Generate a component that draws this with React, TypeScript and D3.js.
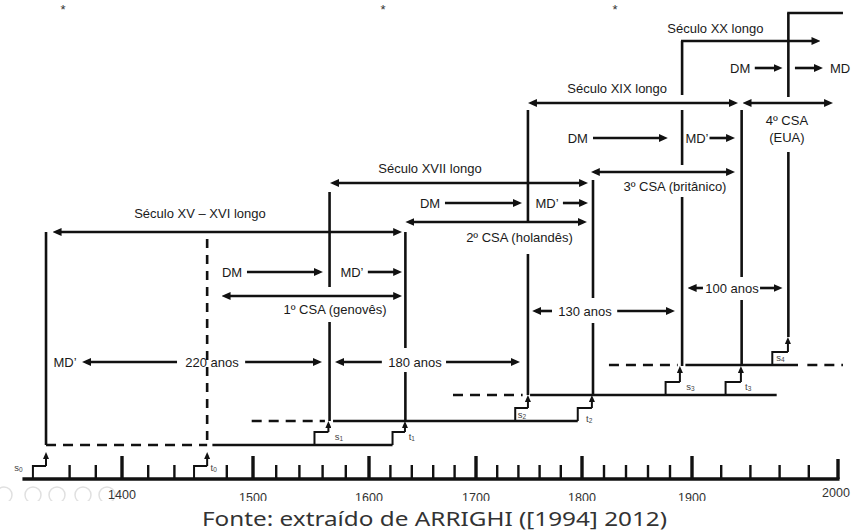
import * as React from "react";
import * as d3 from "d3";

const WIDTH = 852;
const HEIGHT = 532;

// eixo do tempo: o desenho original não é proporcional, então a escala é por trechos
const AXIS_YEARS = [1400, 1500, 1600, 1700, 1800, 1900, 2000];
const AXIS_PX = [122, 253, 369, 476, 582, 692, 838];
const AXIS_START = 1324;
const MINOR_YEARS = d3.range(1360, 2000, 20).filter((y) => y % 100 !== 0 && y !== 1460);

// y de cada patamar da escada (0 = eixo)
const LEVEL_Y = [479, 445, 421, 395, 365];

// sinais (s) e crises terminais (t): subida do degrau, ano da seta, patamar de partida
const STEPS = [
  { s: "s", n: "0", rise: 1332, at: 1342, base: 0, tip: 452, lx: 1321, ly: 467 },
  { s: "t", n: "0", rise: 1455, at: 1465, base: 0, tip: 452, lx: 1470, ly: 467 },
  { s: "s", n: "1", rise: 1553, at: 1565, base: 1, tip: 421, lx: 1574, ly: 436 },
  { s: "t", n: "1", rise: 1622, at: 1633.6, base: 1, tip: 421, lx: 1640, ly: 436 },
  { s: "s", n: "2", rise: 1737, at: 1749, base: 2, tip: 395, lx: 1743.4, ly: 414 },
  { s: "t", n: "2", rise: 1796, at: 1809, base: 2, tip: 395, lx: 1806.5, ly: 418 },
  { s: "s", n: "3", rise: 1876, at: 1889, base: 3, tip: 366, lx: 1898.5, ly: 386 },
  { s: "t", n: "3", rise: 1923, at: 1933.5, base: 3, tip: 366, lx: 1938.5, ly: 386 },
  { s: "s", n: "4", rise: 1955, at: 1965.7, base: 4, tip: 337, lx: 1960.5, ly: 357 },
];

// linhas dos patamares
const LEVEL_LINES = [
  { level: 1, from: 1342, to: 1465, dashed: true },
  { level: 1, from: 1469, to: 1622, dashed: false },
  { level: 2, from: 1499, to: 1562, dashed: true },
  { level: 2, from: 1569, to: 1796, dashed: false },
  { level: 3, from: 1678.5, to: 1744, dashed: true },
  { level: 3, from: 1751, to: 1958, dashed: false },
  { level: 4, from: 1824.5, to: 1887, dashed: true },
  { level: 4, from: 1894, to: 1972.6, dashed: false },
  { level: 4, from: 1979, to: 2003.4, dashed: true },
];

// verticais de cada ciclo (com as interrupções para os rótulos)
const VERTICALS = [
  { year: 1342, segs: [[232, 445]], dashed: false },
  { year: 1465, segs: [[239, 445]], dashed: true },
  { year: 1566, segs: [[192, 287], [322, 421]], dashed: false },
  { year: 1634, segs: [[232, 348], [372, 421]], dashed: false },
  { year: 1749, segs: [[110, 222], [254, 395]], dashed: false },
  { year: 1810, segs: [[180, 298], [323, 395]], dashed: false },
  { year: 1891, segs: [[41, 95], [110, 165], [197, 366]], dashed: false },
  { year: 1934, segs: [[110, 277], [300, 366]], dashed: false },
  { year: 1966, segs: [[13, 97], [152, 337]], dashed: false },
];

const PLAIN_LINES = [{ y: 13, from: 1965.2, to: 2003.4 }];

const ARROWS = [
  { y: 41, from: 1890, to: 1988, start: false, end: true },
  { y: 68, from: 1943, to: 1962, start: false, end: true },
  { y: 68, from: 1970.5, to: 1989.7, start: false, end: true },
  { y: 103, from: 1749, to: 1931.5, start: true, end: true },
  { y: 103, from: 1934.6, to: 1996.6, start: true, end: true },
  { y: 138, from: 1810, to: 1878, start: false, end: true },
  { y: 138, from: 1912, to: 1929.5, start: false, end: true },
  { y: 172, from: 1808, to: 1929.5, start: true, end: true },
  { y: 183, from: 1566.4, to: 1805.5, start: true, end: true },
  { y: 203, from: 1671, to: 1743.4, start: false, end: true },
  { y: 203, from: 1782, to: 1805.5, start: false, end: true },
  { y: 222, from: 1634, to: 1804.5, start: true, end: true },
  { y: 232, from: 1347, to: 1631, start: true, end: true },
  { y: 272, from: 1495.4, to: 1560.3, start: false, end: true },
  { y: 272, from: 1599, to: 1631, start: false, end: true },
  { y: 296, from: 1476, to: 1631, start: true, end: true },
  { y: 362, from: 1442, to: 1369.5, start: false, end: true },
  { y: 362, from: 1494, to: 1559.5, start: false, end: true },
  { y: 362, from: 1612, to: 1570.7, start: false, end: true },
  { y: 362, from: 1672, to: 1741.5, start: false, end: true },
  { y: 311, from: 1771.7, to: 1753, start: false, end: true },
  { y: 311, from: 1832, to: 1884.5, start: false, end: true },
  { y: 288, from: 1907.5, to: 1896, start: false, end: true },
  { y: 288, from: 1946.6, to: 1962, start: false, end: true },
];

const LABELS = [
  { t: "Século XX longo", x: 1916, y: 28 },
  { t: "DM", x: 1933, y: 68 },
  { t: "MD", x: 2001.4, y: 68 },
  { t: "Século XIX longo", x: 1832, y: 88 },
  { t: "4º CSA", x: 1965, y: 120 },
  { t: "(EUA)", x: 1965, y: 137 },
  { t: "DM", x: 1796, y: 138 },
  { t: "MD’", x: 1903.4, y: 138 },
  { t: "Século XVII longo", x: 1657, y: 168 },
  { t: "3º CSA (britânico)", x: 1884.5, y: 186 },
  { t: "DM", x: 1657, y: 203 },
  { t: "MD’", x: 1767, y: 203 },
  { t: "Século XV – XVI longo", x: 1459.5, y: 213 },
  { t: "2º CSA (holandês)", x: 1741, y: 237 },
  { t: "DM", x: 1484, y: 272 },
  { t: "MD’", x: 1585.3, y: 272 },
  { t: "100 anos", x: 1927.4, y: 288 },
  { t: "1º CSA (genovês)", x: 1570.7, y: 309 },
  { t: "130 anos", x: 1802.7, y: 311 },
  { t: "MD’", x: 1356.5, y: 362 },
  { t: "220 anos", x: 1468.7, y: 362 },
  { t: "180 anos", x: 1643, y: 362 },
];

const STARS = [1355, 1613, 1830];
const ICONS_X = [4, 33, 57, 83, 107];

const INK = "#111";
const SW = 2.6;
const HEAD_INSET = 4;

export default function App() {
  const x = d3.scaleLinear().domain(AXIS_YEARS).range(AXIS_PX);
  const font = "'Liberation Sans', Arial, sans-serif";

  return (
    <svg
      width={WIDTH}
      height={HEIGHT}
      viewBox={`0 0 ${WIDTH} ${HEIGHT}`}
      style={{ position: "absolute", left: 0, top: 0, background: "#fff" }}
    >
      <defs>
        <marker
          id="head"
          viewBox="0 0 9 8"
          markerWidth={9}
          markerHeight={8}
          refX={9 - HEAD_INSET}
          refY={4}
          markerUnits="userSpaceOnUse"
          orient="auto-start-reverse"
        >
          <path d="M0,0 L9,4 L0,8 Z" fill={INK} />
        </marker>
        <marker
          id="headS"
          viewBox="0 0 7 6"
          markerWidth={7}
          markerHeight={6}
          refX={7 - 3}
          refY={3}
          markerUnits="userSpaceOnUse"
          orient="auto"
        >
          <path d="M0,0 L7,3 L0,6 Z" fill={INK} />
        </marker>
      </defs>

      {/* asteriscos do topo */}
      {STARS.map((yr, i) => (
        <text key={i} x={x(yr)} y={14} fontSize={13} fill="#333" textAnchor="middle" fontFamily={font}>
          *
        </text>
      ))}

      {/* eixo do tempo */}
      <g stroke={INK} fill="none">
        <line x1={x(AXIS_START)} x2={x(2000) + 1.5} y1={479} y2={479} strokeWidth={3.6} />
        {MINOR_YEARS.map((yr) => (
          <line key={yr} x1={x(yr)} x2={x(yr)} y1={479} y2={465} strokeWidth={2.4} />
        ))}
        {AXIS_YEARS.map((yr) => (
          <line key={yr} x1={x(yr)} x2={x(yr)} y1={479} y2={yr === 2000 ? 459 : 456} strokeWidth={3.4} />
        ))}
      </g>

      {/* patamares */}
      <g stroke={INK} strokeWidth={SW} fill="none">
        {LEVEL_LINES.map((l, i) => (
          <line
            key={i}
            x1={x(l.from)}
            x2={x(l.to)}
            y1={LEVEL_Y[l.level]}
            y2={LEVEL_Y[l.level]}
            strokeDasharray={l.dashed ? "10 7" : undefined}
          />
        ))}
        {PLAIN_LINES.map((l, i) => (
          <line key={i} x1={x(l.from)} x2={x(l.to)} y1={l.y} y2={l.y} />
        ))}
        {VERTICALS.map((v) =>
          v.segs.map((s, j) => (
            <line
              key={`${v.year}-${j}`}
              x1={x(v.year)}
              x2={x(v.year)}
              y1={s[0]}
              y2={s[1]}
              strokeDasharray={v.dashed ? "9 7" : undefined}
            />
          ))
        )}
      </g>

      {/* degraus s / t */}
      <g stroke={INK} fill="none" strokeWidth={2}>
        {STEPS.map((st, i) => {
          const y0 = LEVEL_Y[st.base];
          const top = y0 - 13;
          return (
            <g key={i}>
              <path d={`M${x(st.rise)},${y0} V${top} H${x(st.at)}`} />
              <line
                x1={x(st.at)}
                x2={x(st.at)}
                y1={top}
                y2={st.tip + 3}
                markerEnd="url(#headS)"
              />
            </g>
          );
        })}
      </g>
      {STEPS.map((st, i) => (
        <text
          key={i}
          x={x(st.lx)}
          y={st.ly}
          fontSize={9.5}
          fill="#444"
          textAnchor="middle"
          dominantBaseline="central"
          fontFamily={font}
        >
          {st.s}
          <tspan fontSize={6.5} dy={2}>
            {st.n}
          </tspan>
        </text>
      ))}

      {/* setas */}
      <g stroke={INK} strokeWidth={SW}>
        {ARROWS.map((a, i) => {
          const x1 = x(a.from);
          const x2 = x(a.to);
          const dir = Math.sign(x2 - x1);
          return (
            <line
              key={i}
              x1={a.start ? x1 + dir * HEAD_INSET : x1}
              x2={a.end ? x2 - dir * HEAD_INSET : x2}
              y1={a.y}
              y2={a.y}
              markerStart={a.start ? "url(#head)" : undefined}
              markerEnd={a.end ? "url(#head)" : undefined}
            />
          );
        })}
      </g>

      {/* rótulos */}
      {LABELS.map((l, i) => (
        <text
          key={i}
          x={x(l.x)}
          y={l.y}
          fontSize={13}
          fill="#1a1a1a"
          textAnchor="middle"
          dominantBaseline="central"
          fontFamily={font}
        >
          {l.t}
        </text>
      ))}

      {/* ícones apagados do visualizador */}
      {ICONS_X.map((cx, i) => (
        <circle key={i} cx={cx} cy={495} r={8} fill="none" stroke="#e0e0e0" strokeWidth={1.5} />
      ))}

      {/* anos */}
      {AXIS_YEARS.map((yr) => (
        <text
          key={yr}
          x={x(yr) - (yr === 2000 ? 2 : 0)}
          y={yr === 2000 ? 497 : yr === 1400 ? 499 : 502}
          fontSize={12.5}
          fill="#333"
          textAnchor="middle"
          fontFamily={font}
        >
          {yr}
        </text>
      ))}
      <rect x={0} y={501} width={WIDTH - 30} height={HEIGHT - 501} fill="#fff" />

      <text
        x={434.5}
        y={518}
        fontSize={20}
        fill="#333"
        textAnchor="middle"
        dominantBaseline="central"
        fontFamily="'Noto Sans', sans-serif"
        textLength={465}
        lengthAdjust="spacingAndGlyphs"
      >
        Fonte: extraído de ARRIGHI ([1994] 2012)
      </text>
    </svg>
  );
}
